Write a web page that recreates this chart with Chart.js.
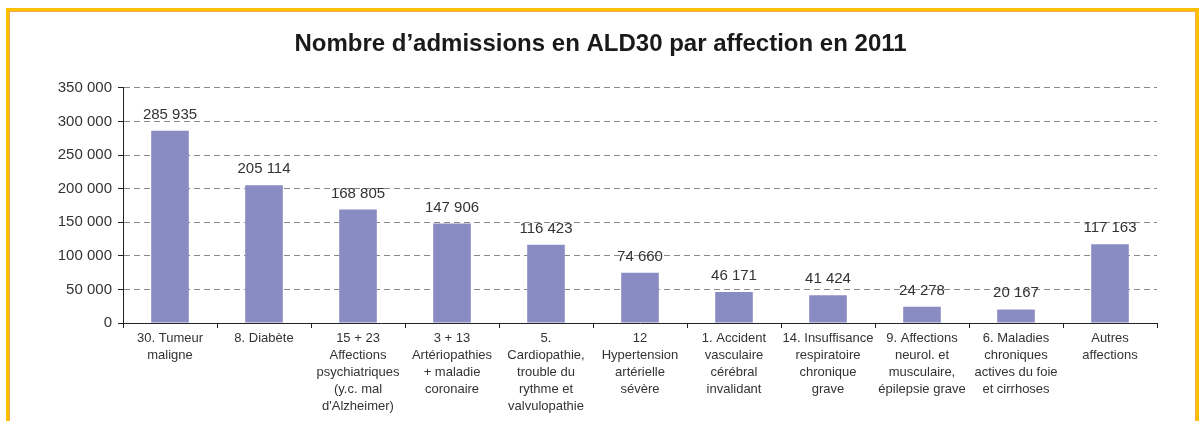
<!DOCTYPE html>
<html>
<head>
<meta charset="utf-8">
<script src="https://cdn.jsdelivr.net/npm/chart.js@4.4.1/dist/chart.umd.min.js"></script>
<style>
  html, body { margin: 0; padding: 0; background: #fff; }
  #wrap { position: relative; width: 1201px; height: 421px; overflow: hidden; }
  #frame {
    position: absolute; left: 6px; top: 8px; width: 1187px; height: 430px;
    border: 3px solid #FFC000; border-bottom: none;
    box-shadow: inset 1px 1px 0 #F7A84A, inset -1px 0 0 #F7A84A;
    pointer-events: none;
  }
</style>
</head>
<body>
<div id="wrap">
  <canvas id="myChart" width="1201" height="421"></canvas>
  <div id="frame"></div>
</div>
<script>
// data
const categories = [
  ['30. Tumeur', 'maligne'],
  ['8. Diabète'],
  ['15 + 23', 'Affections', 'psychiatriques', '(y.c. mal', "d'Alzheimer)"],
  ['3 + 13', 'Artériopathies', '+ maladie', 'coronaire'],
  ['5.', 'Cardiopathie,', 'trouble du', 'rythme et', 'valvulopathie'],
  ['12', 'Hypertension', 'artérielle', 'sévère'],
  ['1. Accident', 'vasculaire', 'cérébral', 'invalidant'],
  ['14. Insuffisance', 'respiratoire', 'chronique', 'grave'],
  ['9. Affections', 'neurol. et', 'musculaire,', 'épilepsie grave'],
  ['6. Maladies', 'chroniques', 'actives du foie', 'et cirrhoses'],
  ['Autres', 'affections'],
];
const admissions = [285935, 205114, 168805, 147906, 116423, 74660, 46171, 41424, 24278, 20167, 117163];
const yTicks = [0, 50000, 100000, 150000, 200000, 250000, 300000, 350000];

const FONT = '"Liberation Sans", Arial, sans-serif';
const fmt = (v) => String(v).replace(/\B(?=(\d{3})+(?!\d))/g, ' ');

// value above each bar
const valueLabels = {
  id: 'valueLabels',
  afterDatasetsDraw(chart) {
    const { ctx } = chart;
    const meta = chart.getDatasetMeta(0);
    ctx.save();
    ctx.font = '15px ' + FONT;
    ctx.fillStyle = '#333';
    ctx.textAlign = 'center';
    ctx.textBaseline = 'alphabetic';
    meta.data.forEach((bar, i) => {
      ctx.fillText(fmt(admissions[i]), bar.x, bar.y - 12);
    });
    ctx.restore();
  },
};

const ctx = document.getElementById('myChart');
new Chart(ctx, {
  type: 'bar',
  data: {
    labels: categories,
    datasets: [{
      data: admissions,
      backgroundColor: '#898CC3',
      borderWidth: 0,
      barPercentage: 0.4,
      categoryPercentage: 1,
    }],
  },
  options: {
    responsive: false,
    animation: false,
    devicePixelRatio: 1,
    layout: { padding: { left: 44, right: 44, top: 14, bottom: 0 } },
    plugins: {
      legend: { display: false },
      tooltip: { enabled: false },
      title: {
        display: true,
        text: 'Nombre d’admissions en ALD30 par affection en 2011',
        color: '#1a1a1a',
        font: { family: FONT, size: 24, weight: 'bold' },
        padding: { top: 16, bottom: 29 },
      },
    },
    scales: {
      x: {
        grid: { display: true, drawOnChartArea: false, offset: true, tickLength: 5, tickColor: '#222' },
        border: { display: true, color: '#222', width: 1 },
        ticks: {
          color: '#333',
          font: { family: FONT, size: 13, lineHeight: 1.3 },
          padding: 2,
          maxRotation: 0,
          autoSkip: false,
        },
        afterFit(scale) { scale.height = 98; },
      },
      y: {
        min: 0,
        max: 350000,
        afterBuildTicks(scale) { scale.ticks = yTicks.map((v) => ({ value: v })); },
        grid: { color: '#888', lineWidth: 1, tickLength: 5, tickColor: '#222' },
        border: { display: true, color: '#222', width: 1, dash: [6, 4] },
        ticks: {
          color: '#333',
          font: { family: FONT, size: 15 },
          padding: 6,
          callback: (v) => fmt(v),
        },
        afterFit(scale) { scale.width = 79; },
      },
    },
  },
  plugins: [valueLabels],
});
</script>
</body>
</html>
